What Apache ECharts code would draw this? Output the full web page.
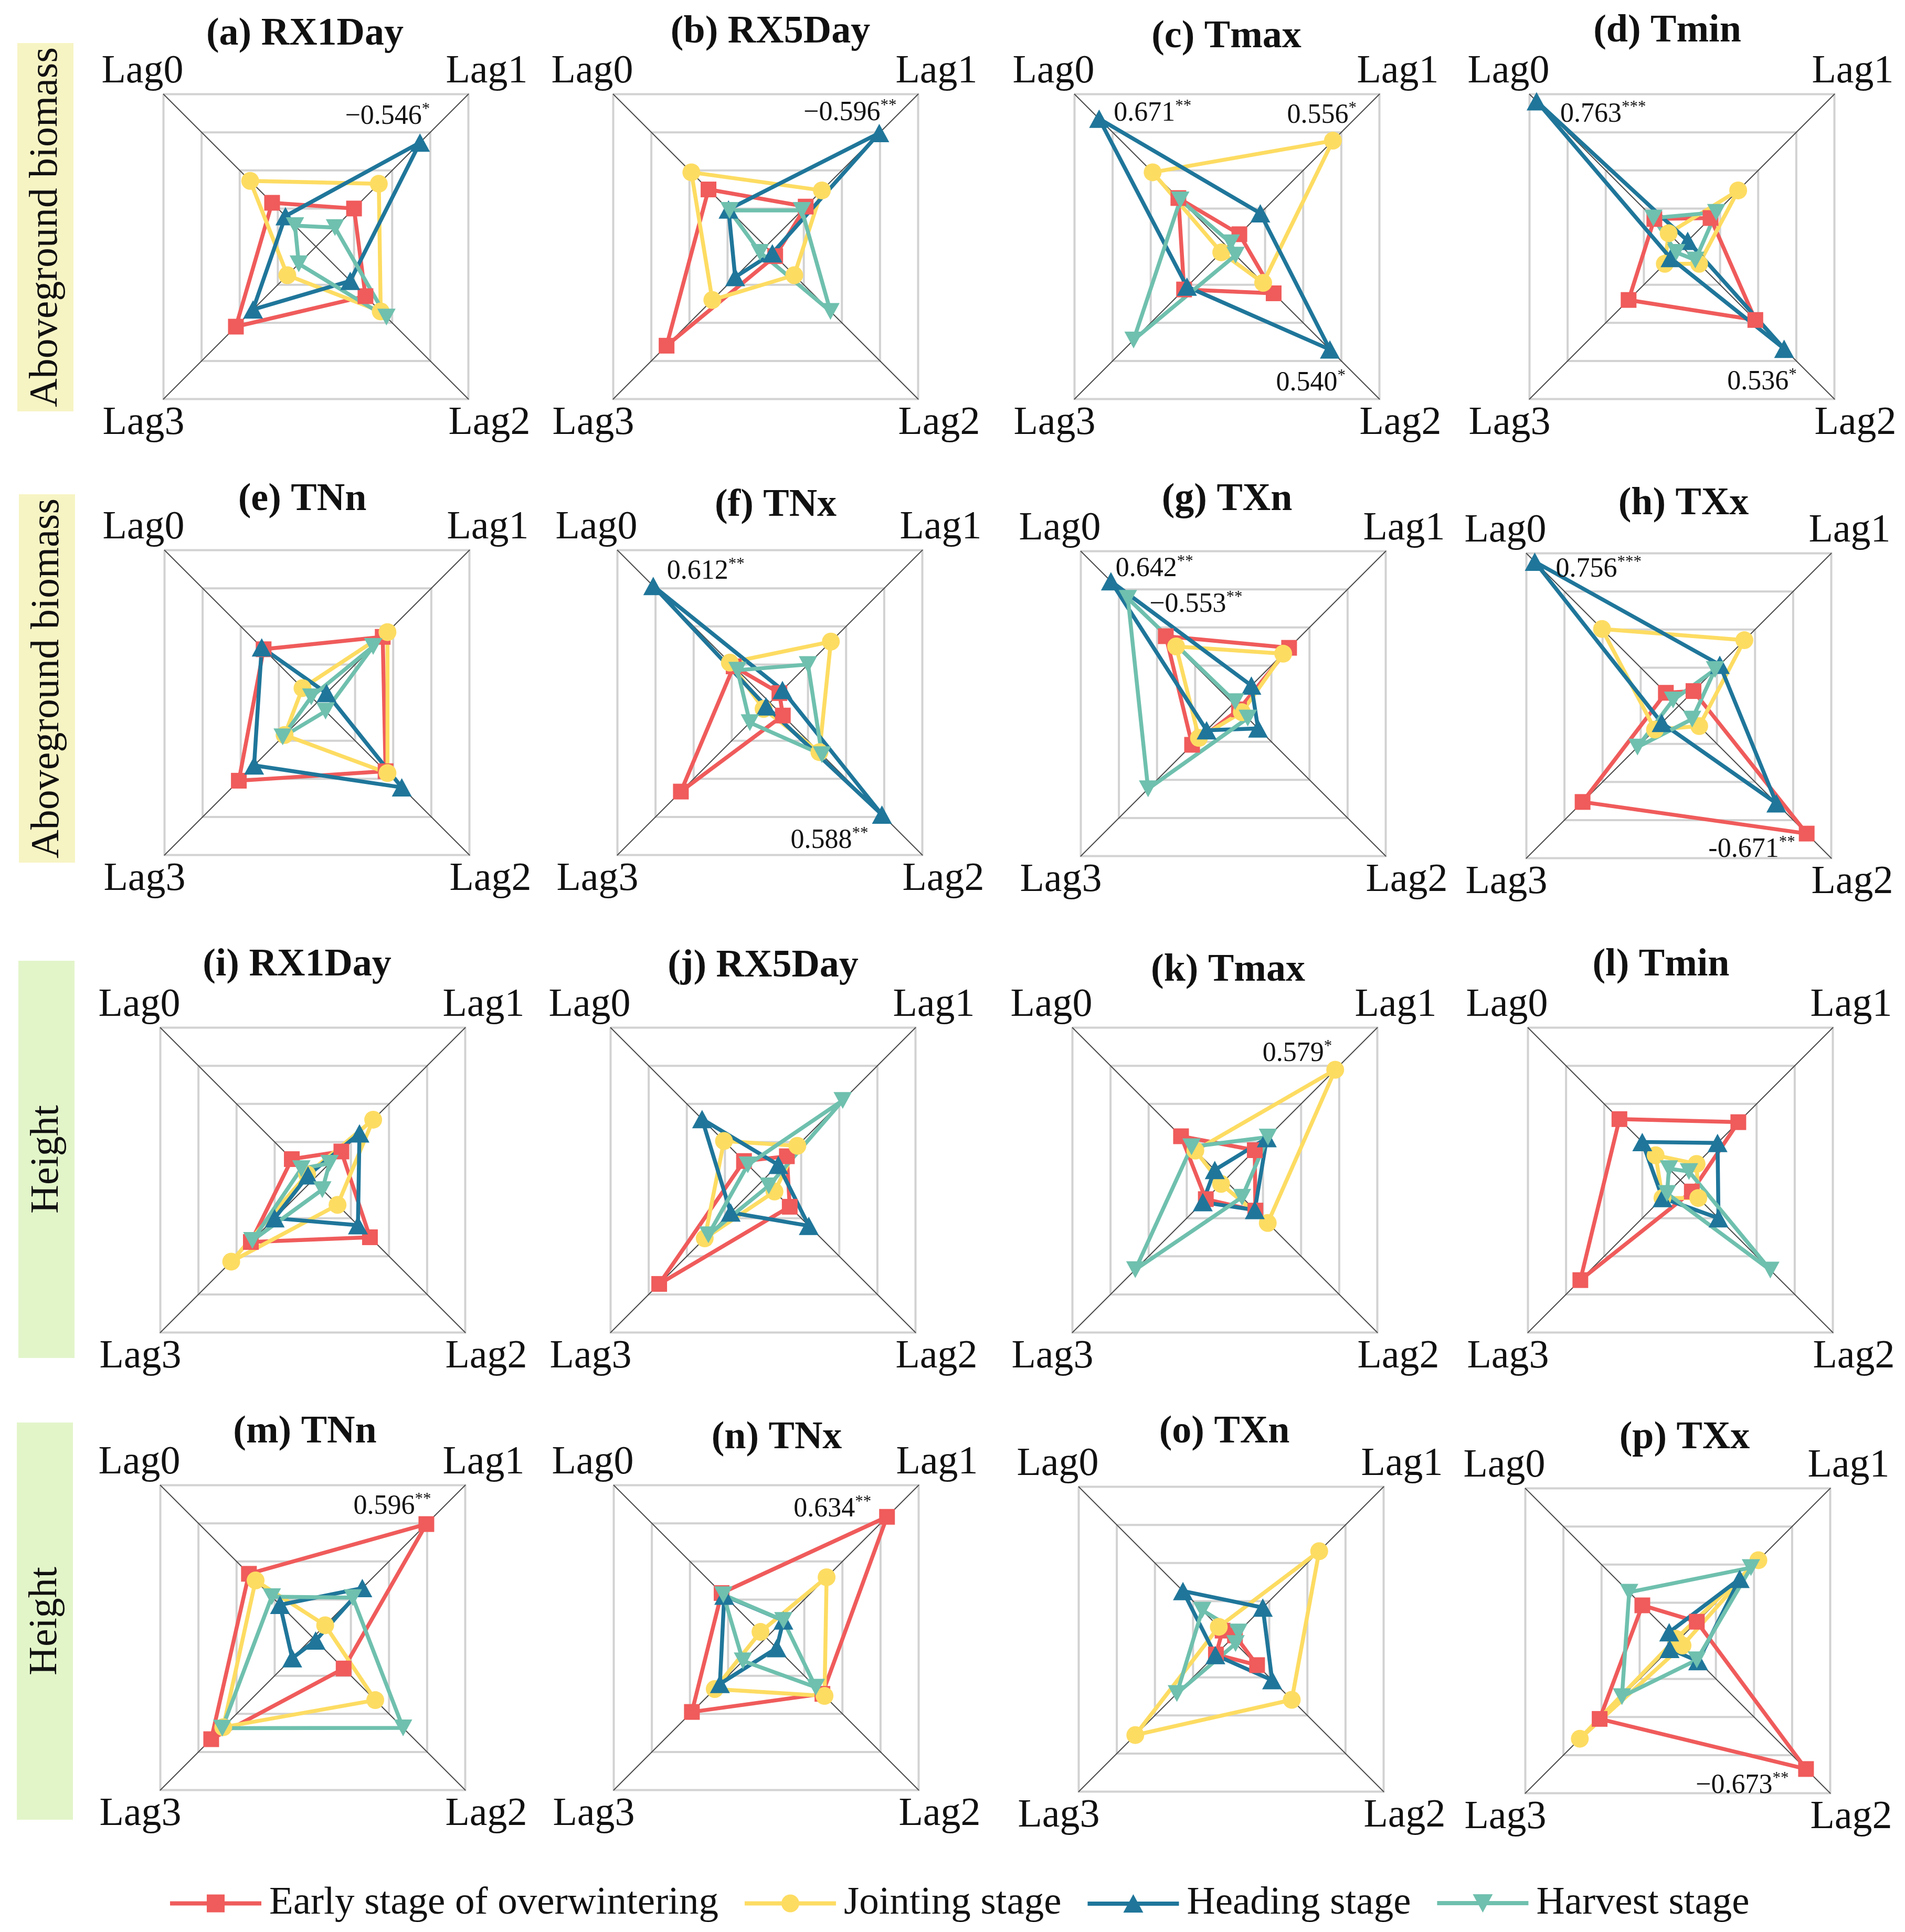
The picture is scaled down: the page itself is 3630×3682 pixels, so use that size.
<!DOCTYPE html>
<html><head><meta charset="utf-8">
<script src="https://cdn.jsdelivr.net/npm/echarts@6/dist/echarts.min.js"></script>
<style>html,body{margin:0;padding:0;background:#fff}#c{width:3630px;height:3682px}</style>
</head><body><div id="c"></div><script>
// ---------- data ----------
const lags = ['Lag0', 'Lag1', 'Lag2', 'Lag3'];
const stages = ['Early stage of overwintering', 'Jointing stage', 'Heading stage', 'Harvest stage'];
const panelTitles = ['(a) RX1Day', '(b) RX5Day', '(c) Tmax', '(d) Tmin',
  '(e) TNn', '(f) TNx', '(g) TXn', '(h) TXx',
  '(i) RX1Day', '(j) RX5Day', '(k) Tmax', '(l) Tmin',
  '(m) TNn', '(n) TNx', '(o) TXn', '(p) TXx'];
const rowLabels = ['Aboveground biomass', 'Aboveground biomass', 'Height', 'Height'];
const axisMax = 0.8;
// |r| for each stage [early, jointing, heading, harvest], values in order Lag0..Lag3
const valA = [[0.23, 0.20, 0.26, 0.42], [0.345, 0.33, 0.34, 0.15], [0.16, 0.546, 0.18, 0.33], [0.11, 0.10, 0.37, 0.09]];
const valB = [[0.30, 0.21, 0.05, 0.52], [0.39, 0.295, 0.15, 0.28], [0.195, 0.596, 0.035, 0.16], [0.19, 0.19, 0.34, 0.03]];
const valC = [[0.255, 0.065, 0.245, 0.225], [0.39, 0.556, 0.19, 0.03], [0.671, 0.175, 0.540, 0.21], [0.245, 0.02, 0.045, 0.49]];
const valD = [[0.145, 0.15, 0.385, 0.28], [0.07, 0.295, 0.09, 0.09], [0.763, 0.03, 0.536, 0.06], [0.15, 0.18, 0.07, 0.03]];
const valE = [[0.28, 0.345, 0.36, 0.41], [0.076, 0.37, 0.37, 0.17], [0.29, 0.05, 0.445, 0.33], [0.03, 0.295, 0.045, 0.18]];
const valF = [[0.19, 0.05, 0.068, 0.467], [0.21, 0.32, 0.26, 0.033], [0.612, 0.066, 0.588, 0.02], [0.17, 0.20, 0.273, 0.105]];
const valG = [[0.354, 0.293, 0.03, 0.216], [0.30, 0.262, 0.045, 0.18], [0.642, 0.095, 0.13, 0.14], [0.553, 0.01, 0.076, 0.447]];
const valH = [[0.068, 0.077, 0.671, 0.505], [0.403, 0.344, 0.107, 0.125], [0.756, 0.215, 0.512, 0.09], [0.03, 0.19, 0.07, 0.217]];
const valI = [[0.11, 0.15, 0.30, 0.325], [0.03, 0.317, 0.13, 0.428], [0.025, 0.245, 0.237, 0.20], [0.06, 0.088, 0.05, 0.317]];
const valJ = [[0.10, 0.125, 0.14, 0.545], [0.205, 0.18, 0.06, 0.306], [0.32, 0.08, 0.24, 0.17], [0.08, 0.418, 0.03, 0.287]];
const valK = [[0.23, 0.157, 0.16, 0.10], [0.155, 0.579, 0.225, 0.02], [0.053, 0.22, 0.157, 0.116], [0.175, 0.226, 0.09, 0.47]];
const valL = [[0.32, 0.304, 0.06, 0.525], [0.13, 0.085, 0.094, 0.094], [0.20, 0.195, 0.20, 0.094], [0.06, 0.045, 0.472, 0.07]];
const valM = [[0.335, 0.596, 0.162, 0.533], [0.30, 0.065, 0.328, 0.47], [0.172, 0.26, 0.015, 0.108], [0.215, 0.21, 0.474, 0.475]];
const valN = [[0.234, 0.634, 0.295, 0.39], [0.03, 0.317, 0.306, 0.27], [0.22, 0.09, 0.055, 0.243], [0.225, 0.09, 0.26, 0.122]];
const valO = [[0.045, 0.02, 0.136, 0.08], [0.065, 0.462, 0.318, 0.503], [0.253, 0.166, 0.215, 0.083], [0.152, 0.038, 0.023, 0.285]];
const valP = [[0.186, 0.10, 0.673, 0.41], [0.01, 0.423, 0.025, 0.514], [0.045, 0.325, 0.107, 0.043], [0.255, 0.384, 0.10, 0.293]];
const panelValues = [valA, valB, valC, valD, valE, valF, valG, valH, valI, valJ, valK, valL, valM, valN, valO, valP];
// significant correlation labels: panel, stage, lag, text, significance stars
const annotations = [
  [0, 2, 1, '\u22120.546', '*'],
  [1, 2, 1, '\u22120.596', '**'],
  [2, 2, 0, '0.671', '**'],
  [2, 1, 1, '0.556', '*'],
  [2, 2, 2, '0.540', '*'],
  [3, 2, 0, '0.763', '***'],
  [3, 2, 2, '0.536', '*'],
  [5, 2, 0, '0.612', '**'],
  [5, 2, 2, '0.588', '**'],
  [6, 2, 0, '0.642', '**'],
  [6, 3, 0, '\u22120.553', '**'],
  [7, 2, 0, '0.756', '***'],
  [7, 0, 2, '-0.671', '**'],
  [10, 1, 1, '0.579', '*'],
  [12, 0, 1, '0.596', '**'],
  [13, 0, 1, '0.634', '**'],
  [15, 0, 2, '\u22120.673', '**']
];

// ---------- layout & style ----------
const annotPlace = [
  ['right', 19, -49], ['right', 33, -38], ['left', 28, -10], ['right', 45, -48], ['right', 30, 64],
  ['left', 45, 25], ['right', 24, 64], ['left', 26, -27], ['right', -26, 50], ['left', 9, -24],
  ['left', 41, 12], ['left', 40, 15], ['right', -22, 31], ['right', -6, -30], ['right', 9, -33],
  ['right', -30, -14], ['right', -33, 32]
];
const panelCenters = [[602, 470], [1459, 470], [2338, 470], [3205, 470],
  [604, 1339], [1467, 1339], [2350, 1341], [3199, 1345],
  [596, 2249], [1454, 2249], [2334, 2249], [3202, 2249],
  [596, 3121], [1460, 3121], [2346, 3124], [3197, 3127]];
const titlePos = [[581, 66], [1468, 62], [2337, 71], [3177, 60],
  [576, 953], [1478, 964], [2338, 953], [3208, 961],
  [566, 1840], [1454, 1842], [2340, 1850], [3165, 1840],
  [581, 2730], [1480, 2741], [2333, 2730], [3210, 2741]];
const rowBoxes = [[33, 82, 107, 702], [36, 942, 107, 702], [35, 1831, 107, 757], [32, 2711, 107, 757]];
const rowBoxColors = ['#f7f4c4', '#f7f4c4', '#e2f5c9', '#e2f5c9'];
const halfSide = 290.5;
const R = halfSide * Math.SQRT2;
const displayOrder = [0, 3, 2, 1]; // counter-clockwise from top-left: Lag0, Lag3, Lag2, Lag1
const lagLabelOffsets = {0: [-40, -42], 1: [35, -42], 2: [40, 47], 3: [-38, 47]};
const lagCornerDir = {0: [-1, -1], 1: [1, -1], 2: [1, 1], 3: [-1, 1]};
const stageColors = ['#f05b5b', '#fddc62', '#1f769a', '#6fc0ae'];
const stageSymbols = ['rect', 'circle', 'triangle', 'path://M0,0L10,0L5,9Z'];
const stageSymbolSizes = [30, 34, [38, 35], [35, 32]];
const legendIcons = [
  'path://M0,16H174V24H0Z M70,3H104V37H70Z',
  'path://M0,16H174V24H0Z M70,20A17,17 0 1 1 104,20A17,17 0 1 1 70,20Z',
  'path://M0,16H174V24H0Z M87,2L106,37H68Z',
  'path://M0,16H174V24H0Z M68,3H106L87,38Z'
];
const FONT = "'Liberation Serif', 'Times New Roman', serif";

const chart = echarts.init(document.getElementById('c'), null, {renderer: 'canvas'});

const radars = panelCenters.map(c => ({
  center: c, radius: R, startAngle: 135, splitNumber: 4, shape: 'polygon',
  indicator: displayOrder.map(k => ({name: lags[k], min: 0, max: axisMax})),
  axisName: {show: false},
  splitLine: {lineStyle: {color: '#d2d2d2', width: 4}},
  splitArea: {show: false},
  axisLine: {lineStyle: {color: '#4a4a4a', width: 2}},
  axisTick: {show: false},
  axisLabel: {show: false}
}));

const series = panelValues.map((vals, i) => ({
  type: 'radar', radarIndex: i, silent: true,
  data: stages.map((s, j) => ({
    name: s,
    value: displayOrder.map(k => vals[j][k]),
    symbol: stageSymbols[j],
    symbolSize: stageSymbolSizes[j],
    itemStyle: {color: stageColors[j]},
    lineStyle: {color: stageColors[j], width: 7.5}
  }))
}));

chart.setOption({
  backgroundColor: '#ffffff',
  animation: false,
  radar: radars,
  series: series,
  legend: {
    left: 324, top: 3590, padding: 0, itemWidth: 174, itemHeight: 40, itemGap: 50,
    selectedMode: false,
    textStyle: {fontFamily: FONT, fontSize: 75, color: '#111', padding: [0, 0, 0, 10]},
    data: stages.map((s, j) => ({name: s, icon: legendIcons[j], itemStyle: {color: stageColors[j], borderWidth: 0}}))
  }
});

// ---------- text elements ----------
const elements = [];
rowBoxes.forEach((b, r) => {
  elements.push({type: 'rect', shape: {x: b[0], y: b[1], width: b[2], height: b[3]}, style: {fill: rowBoxColors[r]}, z: 1});
  elements.push({type: 'text', x: b[0] + b[2] / 2 + 2, y: b[1] + b[3] / 2, rotation: Math.PI / 2, z: 2,
    style: {text: rowLabels[r], fontFamily: FONT, fontSize: 76, fill: '#111', align: 'center', verticalAlign: 'middle'}});
});
panelTitles.forEach((t, i) => {
  elements.push({type: 'text', x: titlePos[i][0], y: titlePos[i][1], z: 5,
    style: {text: t, fontFamily: FONT, fontSize: 74, fontWeight: 'bold', fill: '#111', align: 'center', verticalAlign: 'middle'}});
  const c = panelCenters[i];
  lags.forEach((name, k) => {
    const d = lagCornerDir[k], o = lagLabelOffsets[k];
    elements.push({type: 'text', x: c[0] + d[0] * halfSide + o[0], y: c[1] + d[1] * halfSide + o[1], z: 5,
      style: {text: name, fontFamily: FONT, fontSize: 76, fill: '#111', align: 'center', verticalAlign: 'middle'}});
  });
});

function pointOf(panel, lag, value) {
  const di = displayOrder.indexOf(lag);
  try {
    const cs = chart.getModel().getComponent('radar', panel).coordinateSystem;
    const p = cs.dataToPoint(value, di);
    if (p && isFinite(p[0])) return p;
  } catch (e) {}
  const ang = (135 + 90 * di) * Math.PI / 180, r = value / axisMax * R, c = panelCenters[panel];
  return [c[0] + r * Math.cos(ang), c[1] - r * Math.sin(ang)];
}
annotations.forEach((a, n) => {
  const [panel, stage, lag, txt, sig] = a;
  const p = pointOf(panel, lag, panelValues[panel][stage][lag]);
  const pl = annotPlace[n];
  elements.push({type: 'text', x: p[0] + pl[1], y: p[1] + pl[2], z: 10,
    style: {
      text: '{m|' + txt + '}{s|' + sig + '}', align: pl[0], verticalAlign: 'middle',
      rich: {
        m: {fontFamily: FONT, fontSize: 52, fill: '#111', lineHeight: 58},
        s: {fontFamily: FONT, fontSize: 31, fill: '#111', verticalAlign: 'top', lineHeight: 58, padding: [0, 0, 26, 0]}
      }
    }});
});
chart.setOption({graphic: {elements: elements}});
</script></body></html>
